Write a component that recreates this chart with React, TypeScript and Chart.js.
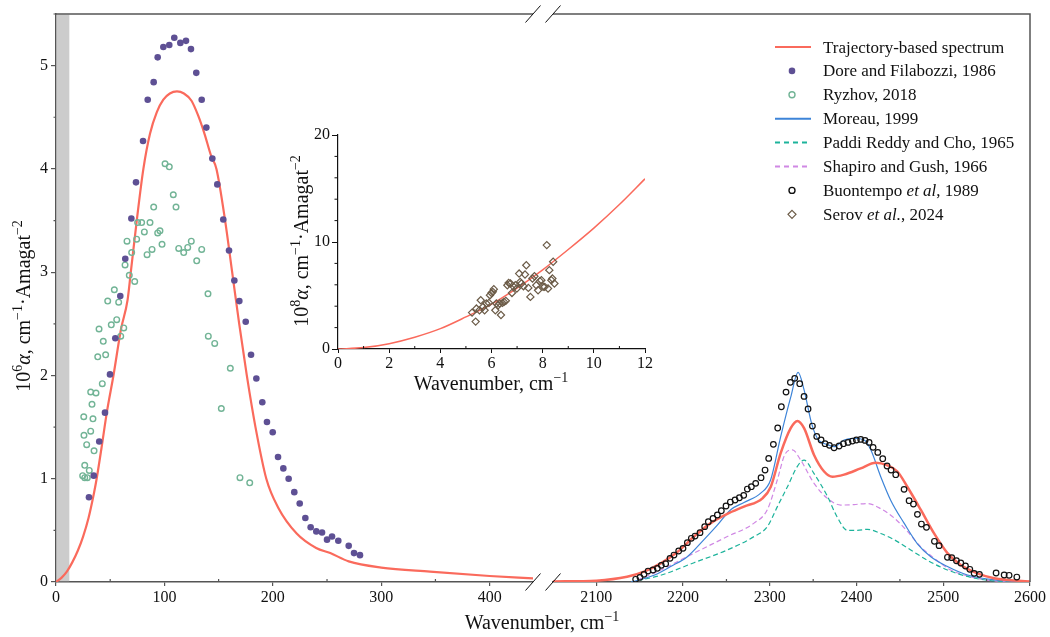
import React, { useEffect, useRef } from 'react';
import { Chart, registerables } from 'chart.js';

Chart.register(...registerables);

const FONT = '"Liberation Serif", "Times New Roman", "DejaVu Serif", serif';
const AXIS = '#555555';
const RED = '#fa6a5c';
const PURPLE = '#5e5094';
const GREEN = '#72b496';
const BLUE = '#3d84d8';
const TEAL = '#1db39b';
const VIOLET = '#d088e4';
const BLACK = '#111111';
const BROWN = '#6b5b47';
const BAND_MAX = 12.3;

// ---------- left panel (0 - 440 cm-1) ----------
const trajLeftX = [0, 5, 10, 15, 20, 25, 30, 35, 37.5, 42, 47, 53, 60, 66, 69, 74.5, 80.6, 86.7, 93, 99, 105, 111.6, 118, 125, 131, 137, 143, 148, 156, 162.5, 169, 176, 184, 194, 205, 222, 240, 253, 270, 300, 345, 400, 440];
const trajLeftY = [0, 0.04, 0.1, 0.19, 0.3, 0.44, 0.62, 0.86, 1.0, 1.3, 1.65, 2.0, 2.45, 2.73, 3.0, 3.5, 4.0, 4.34, 4.55, 4.67, 4.73, 4.75, 4.73, 4.66, 4.52, 4.34, 4.13, 4.0, 3.5, 3.0, 2.5, 2.0, 1.5, 1.0, 0.72, 0.47, 0.33, 0.28, 0.2, 0.14, 0.1, 0.058, 0.035];

const doreX = [30.4, 34.8, 39.9, 45.2, 49.8, 54.7, 59.3, 63.9, 69.5, 73.8, 80.3, 84.6, 90.1, 93.8, 99, 104.5, 109.1, 114.7, 119.9, 124.5, 129.4, 134.4, 138.7, 144.2, 148.8, 154.3, 159.6, 164.5, 169.1, 175, 179.9, 184.8, 190.3, 194.6, 199.9, 204.8, 209.7, 214.6, 219.8, 224.8, 230, 234.9, 240.1, 245.4, 250, 254.6, 260.4, 270, 274.9, 280.4];
const doreY = [0.82, 1.03, 1.36, 1.64, 2.01, 2.36, 2.77, 3.13, 3.52, 3.87, 4.27, 4.67, 4.84, 5.08, 5.18, 5.2, 5.27, 5.22, 5.24, 5.16, 4.93, 4.67, 4.4, 4.1, 3.85, 3.51, 3.21, 2.92, 2.72, 2.52, 2.2, 1.97, 1.74, 1.55, 1.45, 1.21, 1.1, 1.0, 0.87, 0.76, 0.62, 0.53, 0.49, 0.48, 0.41, 0.44, 0.4, 0.35, 0.28, 0.26];

const ryzhovX = [24.6, 25.6, 25.8, 26.5, 26.5, 28.3, 28.9, 30.7, 32, 32, 33.2, 34.1, 35.1, 36.9, 38.5, 39.7, 42.7, 43.6, 45.8, 47.7, 51, 53.8, 56, 57.8, 59.7, 62.5, 63.7, 65.5, 67.6, 69.8, 72.6, 74.4, 75.3, 79, 81.5, 84, 86.7, 88.6, 90.1, 93.8, 95.9, 97.8, 100.6, 104.5, 108.2, 110.7, 113.2, 117.8, 121.5, 124.8, 129.8, 134.4, 140.2, 140.5, 146.4, 152.5, 160.8, 169.7, 178.7];
const ryzhovY = [1.03, 1.6, 1.42, 1.13, 1.01, 1.33, 1.01, 1.08, 1.84, 1.46, 1.72, 1.58, 1.27, 1.83, 2.18, 2.45, 1.92, 2.33, 2.2, 2.72, 2.49, 2.83, 2.54, 2.71, 2.38, 2.46, 3.07, 3.3, 2.97, 3.19, 2.91, 3.32, 3.48, 3.48, 3.39, 3.17, 3.48, 3.22, 3.63, 3.38, 3.4, 3.27, 4.05, 4.02, 3.75, 3.63, 3.23, 3.19, 3.24, 3.3, 3.11, 3.22, 2.79, 2.38, 2.31, 1.68, 2.07, 1.01, 0.96];

// ---------- right panel (2050 - 2600 cm-1) ----------
const trajRightX = [2050, 2100, 2135.4, 2154.9, 2174.2, 2193.4, 2212.6, 2231.8, 2251, 2270.2, 2291.5, 2301, 2312.6, 2324.1, 2331.8, 2339.5, 2351, 2362.6, 2372.2, 2385.6, 2404.8, 2422.1, 2435.6, 2447.1, 2458.7, 2474, 2489.4, 2504.8, 2520.2, 2539.4, 2558.7, 2600];
const trajRightY = [0.005, 0.013, 0.05, 0.1, 0.18, 0.29, 0.44, 0.57, 0.66, 0.73, 0.81, 0.92, 1.25, 1.49, 1.56, 1.49, 1.23, 1.07, 1.02, 1.04, 1.1, 1.155, 1.13, 1.07, 0.92, 0.7, 0.47, 0.28, 0.165, 0.084, 0.036, 0.005];

const moreauX = [2140, 2166.4, 2185.7, 2204.9, 2224.1, 2239.5, 2254.9, 2270.2, 2289.5, 2301, 2312.6, 2324.1, 2332.6, 2339.5, 2348, 2354.9, 2366.4, 2374.1, 2385.6, 2397.2, 2408.7, 2416.4, 2427.9, 2439.5, 2454.8, 2470.2, 2485.6, 2504.8, 2527.9, 2558.7, 2600];
const moreauY = [0, 0.065, 0.15, 0.245, 0.41, 0.55, 0.7, 0.77, 0.86, 0.99, 1.41, 1.79, 2.03, 1.86, 1.54, 1.39, 1.33, 1.31, 1.375, 1.39, 1.375, 1.28, 1.02, 0.79, 0.57, 0.37, 0.245, 0.15, 0.068, 0.02, 0];

const shapiroX = [2147.3, 2174.2, 2212.6, 2251, 2281.8, 2297.1, 2308.7, 2317.1, 2326, 2335.6, 2351, 2366.4, 2381.8, 2397.2, 2412.5, 2427.9, 2443.3, 2458.7, 2474, 2489.4, 2508.6, 2531.7, 2558.7, 2600];
const shapiroY = [0.02, 0.116, 0.28, 0.44, 0.57, 0.7, 0.99, 1.23, 1.28, 1.18, 0.955, 0.81, 0.745, 0.75, 0.76, 0.71, 0.62, 0.49, 0.34, 0.23, 0.116, 0.05, 0.01, 0];

const paddiX = [2147.3, 2174.2, 2212.6, 2251, 2281.8, 2297.1, 2308.7, 2320.2, 2331.8, 2339.5, 2351, 2366.4, 2377.6, 2389.5, 2400.9, 2412.5, 2427.9, 2443.3, 2462.5, 2481.7, 2504.8, 2531.7, 2558.7, 2600];
const paddiY = [0.013, 0.065, 0.187, 0.31, 0.44, 0.535, 0.73, 0.92, 1.12, 1.18, 1.05, 0.83, 0.63, 0.5, 0.5, 0.51, 0.47, 0.41, 0.31, 0.21, 0.116, 0.045, 0.01, 0];

const buonX = [2145.3, 2150.3, 2154.9, 2159.6, 2165.3, 2170.3, 2174.9, 2179.9, 2184.9, 2189.5, 2194.9, 2199.9, 2204.9, 2209.5, 2213.8, 2219.5, 2224.9, 2229.1, 2234.5, 2239.5, 2244.1, 2249.5, 2254.5, 2259.9, 2264.9, 2269.9, 2274.1, 2278.7, 2283.7, 2289.9, 2294.5, 2298.7, 2304.1, 2309.1, 2313.3, 2318.7, 2323.7, 2328.7, 2334.5, 2339.5, 2344.1, 2349.1, 2354.1, 2359.1, 2363.7, 2368.7, 2374.1, 2379.9, 2384.9, 2390.2, 2395.2, 2399.8, 2404.8, 2409.8, 2414.5, 2419.1, 2424.5, 2430.2, 2435.2, 2439.8, 2445.2, 2454.8, 2460.6, 2465.6, 2470.2, 2474.8, 2480.6, 2489.8, 2495.2, 2504.8, 2509.8, 2515.2, 2520.2, 2525.6, 2530.6, 2535.6, 2541.7, 2560.9, 2570.2, 2575.9, 2584.8];
const buonY = [0.026, 0.045, 0.074, 0.106, 0.116, 0.132, 0.161, 0.177, 0.229, 0.261, 0.3, 0.326, 0.381, 0.423, 0.445, 0.478, 0.536, 0.584, 0.616, 0.649, 0.69, 0.736, 0.774, 0.794, 0.816, 0.839, 0.9, 0.923, 0.955, 1.01, 1.084, 1.197, 1.333, 1.491, 1.697, 1.839, 1.933, 1.972, 1.92, 1.797, 1.675, 1.51, 1.41, 1.375, 1.339, 1.323, 1.3, 1.317, 1.339, 1.352, 1.365, 1.375, 1.381, 1.371, 1.352, 1.304, 1.255, 1.194, 1.123, 1.084, 1.039, 0.897, 0.787, 0.755, 0.655, 0.561, 0.529, 0.394, 0.352, 0.239, 0.236, 0.206, 0.184, 0.155, 0.123, 0.084, 0.074, 0.087, 0.068, 0.065, 0.048];

// ---------- inset (0 - 12 cm-1, 10^8 alpha) ----------
const insetCurveX = [0, 1, 2, 3, 4, 5, 6, 7, 8, 9, 10, 11, 12];
const insetCurveY = [0, 0.13, 0.5, 1.1, 1.9, 3.0, 4.2, 5.7, 7.4, 9.3, 11.3, 13.5, 15.9];

const serovX = [5.24, 5.38, 5.41, 5.53, 5.58, 5.67, 5.73, 5.8, 5.9, 5.94, 6.0, 6.05, 6.09, 6.15, 6.19, 6.26, 6.32, 6.37, 6.43, 6.49, 6.56, 6.62, 6.67, 6.74, 6.8, 6.87, 6.93, 6.99, 7.08, 7.12, 7.17, 7.25, 7.31, 7.36, 7.44, 7.52, 7.6, 7.68, 7.75, 7.82, 7.89, 7.95, 8.02, 8.08, 8.16, 8.21, 8.26, 8.34, 8.38, 8.41, 8.46];
const serovY = [3.4, 2.56, 3.78, 3.62, 4.56, 3.93, 3.62, 4.25, 4.31, 5.03, 5.24, 5.34, 5.59, 3.62, 4.25, 4.09, 4.25, 3.18, 4.31, 4.4, 4.5, 5.96, 6.18, 6.12, 5.24, 5.81, 5.96, 5.65, 7.05, 6.27, 6.12, 5.87, 6.96, 7.83, 5.71, 4.87, 6.59, 6.8, 5.96, 5.49, 6.34, 6.43, 5.81, 5.81, 9.71, 5.65, 7.37, 6.43, 6.59, 8.15, 6.12];

// tick labels
const leftTicks = [0, 100, 200, 300, 400];
const rightTicks = [2100, 2200, 2300, 2400, 2500, 2600];
const yTicks = [0, 1, 2, 3, 4, 5];
const leftMinor = [50, 150, 250, 350];
const rightMinor = [2150, 2250, 2350, 2450, 2550];
const yMinor = [0.5, 1.5, 2.5, 3.5, 4.5, 5.5];
const insetXTicks = [0, 2, 4, 6, 8, 10, 12];
const insetXMinor = [1, 3, 5, 7, 9, 11];
const insetYTicks = [0, 10, 20];
const insetYMinor = [2, 4, 6, 8, 12, 14, 16, 18];

type Seg = { t: string; it?: boolean; sup?: boolean };

const xTitle: Seg[] = [{ t: 'Wavenumber, cm' }, { t: '\u22121', sup: true }];
const yTitleMain: Seg[] = [{ t: '10' }, { t: '6', sup: true }, { t: '\u03b1', it: true }, { t: ', cm' }, { t: '\u22121', sup: true }, { t: '\u00b7Amagat' }, { t: '\u22122', sup: true }];
const yTitleInset: Seg[] = [{ t: '10' }, { t: '8', sup: true }, { t: '\u03b1', it: true }, { t: ', cm' }, { t: '\u22121', sup: true }, { t: '\u00b7Amagat' }, { t: '\u22122', sup: true }];

const legendLabels: Seg[][] = [
  [{ t: 'Trajectory-based spectrum' }],
  [{ t: 'Dore and Filabozzi, 1986' }],
  [{ t: 'Ryzhov, 2018' }],
  [{ t: 'Moreau, 1999' }],
  [{ t: 'Paddi Reddy and Cho, 1965' }],
  [{ t: 'Shapiro and Gush, 1966' }],
  [{ t: 'Buontempo ' }, { t: 'et al', it: true }, { t: ', 1989' }],
  [{ t: 'Serov ' }, { t: 'et al.', it: true }, { t: ', 2024' }],
];
const legendKinds = ['line', 'dot', 'ring', 'line', 'dash', 'dash', 'ring', 'diamond'];
const legendColors = [RED, PURPLE, GREEN, BLUE, TEAL, VIOLET, BLACK, BROWN];

const pts = (xs: number[], ys: number[]) => xs.map((x, i) => ({ x, y: ys[i] }));

function segFont(s: Seg, size: number) {
  return `${s.it ? 'italic ' : ''}${s.sup ? Math.round(size * 0.7) : size}px ${FONT}`;
}
function drawRich(ctx: CanvasRenderingContext2D, segs: Seg[], x: number, y: number, size: number, align: 'left' | 'center') {
  let total = 0;
  for (const s of segs) {
    ctx.font = segFont(s, size);
    total += ctx.measureText(s.t).width;
  }
  let cx = align === 'center' ? x - total / 2 : x;
  ctx.textAlign = 'left';
  ctx.textBaseline = 'alphabetic';
  for (const s of segs) {
    ctx.font = segFont(s, size);
    ctx.fillText(s.t, cx, s.sup ? y - size * 0.4 : y);
    cx += ctx.measureText(s.t).width;
  }
}

const mainDecor = {
  id: 'mainDecor',
  beforeDatasetsDraw(chart: any) {
    const { ctx, chartArea } = chart;
    const xL = chart.scales.xL;
    const x0 = xL.getPixelForValue(0) + 0.75;
    const x1 = xL.getPixelForValue(BAND_MAX);
    ctx.save();
    ctx.fillStyle = '#cccccc';
    ctx.fillRect(x0, chartArea.top + 0.75, x1 - x0, chartArea.bottom - chartArea.top - 1.5);
    ctx.restore();
  },
  afterDraw(chart: any) {
    const { ctx, chartArea } = chart;
    const xL = chart.scales.xL;
    const xR = chart.scales.xR;
    const y = chart.scales.y;
    const top = chartArea.top;
    const bottom = chartArea.bottom;
    ctx.save();
    // frame: top and right
    ctx.strokeStyle = AXIS;
    ctx.lineWidth = 1.5;
    ctx.beginPath();
    ctx.moveTo(xL.left, top);
    ctx.lineTo(xL.right, top);
    ctx.moveTo(xR.left, top);
    ctx.lineTo(xR.right, top);
    ctx.lineTo(xR.right, bottom);
    ctx.stroke();
    // minor ticks
    ctx.lineWidth = 1.2;
    ctx.beginPath();
    for (const v of yMinor) {
      const py = y.getPixelForValue(v);
      ctx.moveTo(chartArea.left - 2.5, py);
      ctx.lineTo(chartArea.left, py);
    }
    for (const v of leftMinor) {
      const px = xL.getPixelForValue(v);
      ctx.moveTo(px, bottom);
      ctx.lineTo(px, bottom - 3);
    }
    for (const v of rightMinor) {
      const px = xR.getPixelForValue(v);
      ctx.moveTo(px, bottom);
      ctx.lineTo(px, bottom - 3);
    }
    ctx.stroke();
    // break marks
    ctx.strokeStyle = '#111';
    ctx.lineWidth = 1;
    ctx.beginPath();
    for (const cx of [xL.right, xR.left]) {
      for (const cy of [top, bottom]) {
        ctx.moveTo(cx - 7.5, cy + 8.5);
        ctx.lineTo(cx + 7.5, cy - 8.5);
      }
    }
    ctx.stroke();
    // axis titles
    ctx.fillStyle = '#111';
    drawRich(ctx, xTitle, 542, 629, 20, 'center');
    ctx.save();
    ctx.translate(30, 306);
    ctx.rotate(-Math.PI / 2);
    drawRich(ctx, yTitleMain, 0, 0, 20, 'center');
    ctx.restore();
    // legend
    const lx0 = 775, lx1 = 811, mx = 792, tx = 823;
    legendLabels.forEach((segs, i) => {
      const cy = 47 + i * 23.9;
      const col = legendColors[i];
      const kind = legendKinds[i];
      ctx.save();
      ctx.strokeStyle = col;
      ctx.fillStyle = col;
      if (kind === 'line' || kind === 'dash') {
        ctx.lineWidth = 2;
        ctx.setLineDash(kind === 'dash' ? [5, 4] : []);
        ctx.beginPath();
        ctx.moveTo(lx0, cy);
        ctx.lineTo(lx1, cy);
        ctx.stroke();
      } else if (kind === 'dot') {
        ctx.beginPath();
        ctx.arc(mx, cy, 3.3, 0, Math.PI * 2);
        ctx.fill();
      } else if (kind === 'ring') {
        ctx.lineWidth = 1.4;
        ctx.beginPath();
        ctx.arc(mx, cy, 3, 0, Math.PI * 2);
        ctx.stroke();
      } else {
        ctx.lineWidth = 1.2;
        ctx.beginPath();
        ctx.moveTo(mx, cy - 4);
        ctx.lineTo(mx + 4, cy);
        ctx.lineTo(mx, cy + 4);
        ctx.lineTo(mx - 4, cy);
        ctx.closePath();
        ctx.stroke();
      }
      ctx.restore();
      ctx.fillStyle = '#111';
      drawRich(ctx, segs, tx, cy + 5.5, 17, 'left');
    });
    ctx.restore();
  },
};

const insetDecor = {
  id: 'insetDecor',
  afterDraw(chart: any) {
    const { ctx, chartArea } = chart;
    const x = chart.scales.x;
    const y = chart.scales.y;
    ctx.save();
    ctx.strokeStyle = '#111';
    ctx.lineWidth = 1;
    ctx.beginPath();
    for (const v of insetYMinor) {
      const py = y.getPixelForValue(v);
      ctx.moveTo(chartArea.left - 3.5, py);
      ctx.lineTo(chartArea.left, py);
    }
    for (const v of insetXMinor) {
      const px = x.getPixelForValue(v);
      ctx.moveTo(px, chartArea.bottom);
      ctx.lineTo(px, chartArea.bottom - 3);
    }
    ctx.stroke();
    ctx.fillStyle = '#111';
    drawRich(ctx, xTitle, 211, 280, 20, 'center');
    ctx.save();
    ctx.translate(28, 131);
    ctx.rotate(-Math.PI / 2);
    drawRich(ctx, yTitleInset, 0, 0, 20, 'center');
    ctx.restore();
    ctx.restore();
  },
};

const tickFont = { family: FONT, size: 16 };

function keepTicks(list: number[]) {
  return (s: any) => {
    s.ticks = list.map((v) => ({ value: v }));
  };
}

export default function App() {
  const mainRef = useRef<HTMLCanvasElement>(null);
  const insetRef = useRef<HTMLCanvasElement>(null);

  useEffect(() => {
    if (!mainRef.current || !insetRef.current) return;
    const common = { showLine: false, yAxisID: 'y' };
    const main = new Chart(mainRef.current, {
      type: 'scatter',
      data: {
        datasets: [
          { ...common, label: 'Dore and Filabozzi, 1986', data: pts(doreX, doreY), xAxisID: 'xL', pointRadius: 3.3, borderWidth: 0, borderColor: PURPLE, backgroundColor: PURPLE, order: 0 },
          { ...common, label: 'Ryzhov, 2018', data: pts(ryzhovX, ryzhovY), xAxisID: 'xL', pointRadius: 2.8, borderWidth: 1.4, borderColor: GREEN, backgroundColor: 'rgba(0,0,0,0)', order: 0 },
          { ...common, label: 'Buontempo et al, 1989', data: pts(buonX, buonY), xAxisID: 'xR', pointRadius: 2.8, borderWidth: 1.2, borderColor: BLACK, backgroundColor: 'rgba(0,0,0,0)', order: 0 },
          { label: 'Trajectory-based spectrum', data: pts(trajLeftX, trajLeftY), xAxisID: 'xL', yAxisID: 'y', showLine: true, pointRadius: 0, borderColor: RED, borderWidth: 2.2, cubicInterpolationMode: 'monotone', order: 1 },
          { label: 'Trajectory-based spectrum (band)', data: pts(trajRightX, trajRightY), xAxisID: 'xR', yAxisID: 'y', showLine: true, pointRadius: 0, borderColor: RED, borderWidth: 2.5, cubicInterpolationMode: 'monotone', order: 1 },
          { label: 'Moreau, 1999', data: pts(moreauX, moreauY), xAxisID: 'xR', yAxisID: 'y', showLine: true, pointRadius: 0, borderColor: BLUE, borderWidth: 1.2, cubicInterpolationMode: 'monotone', order: 2 },
          { label: 'Paddi Reddy and Cho, 1965', data: pts(paddiX, paddiY), xAxisID: 'xR', yAxisID: 'y', showLine: true, pointRadius: 0, borderColor: TEAL, borderWidth: 1.2, borderDash: [5, 3], cubicInterpolationMode: 'monotone', order: 3 },
          { label: 'Shapiro and Gush, 1966', data: pts(shapiroX, shapiroY), xAxisID: 'xR', yAxisID: 'y', showLine: true, pointRadius: 0, borderColor: VIOLET, borderWidth: 1.2, borderDash: [5, 3], cubicInterpolationMode: 'monotone', order: 3 },
        ] as any,
      },
      options: {
        responsive: false,
        animation: false,
        devicePixelRatio: 1,
        events: [],
        layout: { padding: { left: 0, top: 14, right: 20, bottom: 0 } },
        plugins: { legend: { display: false }, tooltip: { enabled: false } },
        scales: {
          xL: {
            type: 'linear', position: 'bottom', stack: 'x', stackWeight: 477, min: 0, max: 440,
            afterFit: (s: any) => { s.height = 55; },
            afterBuildTicks: keepTicks(leftTicks),
            ticks: { stepSize: 100, includeBounds: false, padding: 2, color: '#111', font: tickFont, maxRotation: 0, autoSkip: false, callback: (v: any) => String(v) },
            grid: { drawOnChartArea: false, drawTicks: true, tickLength: 4, color: AXIS, lineWidth: 1.2 },
            border: { display: true, color: AXIS, width: 1.5 },
          },
          xGap: {
            type: 'linear', position: 'bottom', stack: 'x', stackWeight: 20, min: 0, max: 1, display: false,
            afterFit: (s: any) => { s.height = 55; },
          },
          xR: {
            type: 'linear', position: 'bottom', stack: 'x', stackWeight: 477, min: 2050, max: 2600,
            afterFit: (s: any) => { s.height = 55; },
            afterBuildTicks: keepTicks(rightTicks),
            ticks: { stepSize: 100, includeBounds: false, padding: 2, color: '#111', font: tickFont, maxRotation: 0, autoSkip: false, callback: (v: any) => String(v) },
            grid: { drawOnChartArea: false, drawTicks: true, tickLength: 4, color: AXIS, lineWidth: 1.2 },
            border: { display: true, color: AXIS, width: 1.5 },
          },
          y: {
            type: 'linear', position: 'left', min: 0, max: 5.5,
            afterFit: (s: any) => { s.width = 56; },
            afterBuildTicks: keepTicks(yTicks),
            ticks: { stepSize: 1, includeBounds: false, padding: 3, color: '#111', font: tickFont, callback: (v: any) => String(v) },
            grid: { drawOnChartArea: false, drawTicks: true, tickLength: 5, color: AXIS, lineWidth: 1.2 },
            border: { display: true, color: AXIS, width: 1.5 },
          },
        } as any,
      },
      plugins: [mainDecor],
    });

    const inset = new Chart(insetRef.current, {
      type: 'scatter',
      data: {
        datasets: [
          { label: 'Serov et al., 2024', data: pts(serovX, serovY), pointStyle: 'rectRot', pointRadius: 3.6, borderWidth: 1.2, borderColor: BROWN, backgroundColor: 'rgba(0,0,0,0)', order: 0 },
          { label: 'Trajectory-based spectrum', data: pts(insetCurveX, insetCurveY), showLine: true, pointRadius: 0, borderColor: RED, borderWidth: 1.5, cubicInterpolationMode: 'monotone', order: 1 },
        ] as any,
      },
      options: {
        responsive: false,
        animation: false,
        devicePixelRatio: 1,
        events: [],
        layout: { padding: { left: 0, top: 25, right: 25, bottom: 0 } },
        plugins: { legend: { display: false }, tooltip: { enabled: false } },
        scales: {
          x: {
            type: 'linear', min: 0, max: 12,
            afterFit: (s: any) => { s.height = 51; },
            afterBuildTicks: keepTicks(insetXTicks),
            ticks: { stepSize: 2, padding: 1, color: '#111', font: tickFont, maxRotation: 0, autoSkip: false, callback: (v: any) => String(v) },
            grid: { drawOnChartArea: false, drawTicks: true, tickLength: 4, color: '#111', lineWidth: 1 },
            border: { display: true, color: '#111', width: 1.2 },
          },
          y: {
            type: 'linear', min: 0, max: 20,
            afterFit: (s: any) => { s.width = 58; },
            afterBuildTicks: keepTicks(insetYTicks),
            ticks: { stepSize: 10, padding: 2, color: '#111', font: tickFont, callback: (v: any) => String(v) },
            grid: { drawOnChartArea: false, drawTicks: true, tickLength: 6, color: '#111', lineWidth: 1 },
            border: { display: true, color: '#111', width: 1.2 },
          },
        } as any,
      },
      plugins: [insetDecor],
    });

    return () => {
      main.destroy();
      inset.destroy();
    };
  }, []);

  return (
    <div style={{ position: 'absolute', left: 0, top: 0, width: 1050, height: 637, background: '#fff' }}>
      <canvas ref={mainRef} width={1050} height={637} style={{ position: 'absolute', left: 0, top: 0 }} />
      <canvas ref={insetRef} width={390} height={290} style={{ position: 'absolute', left: 280, top: 110, pointerEvents: 'none' }} />
    </div>
  );
}
